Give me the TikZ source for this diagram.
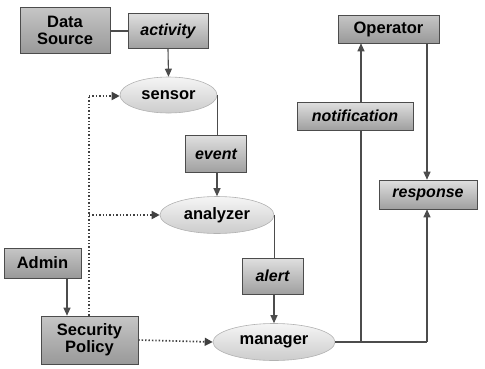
\documentclass[tikz,border=0pt]{standalone}
\usepackage{fontspec}
\setmainfont{Liberation Sans}
\usetikzlibrary{shapes.geometric,arrows.meta,calc}
\begin{document}
\begin{tikzpicture}[x=1pt,y=-1pt,
  base/.style={draw=black!70,line width=0.6pt,inner sep=0pt,align=center,font=\fontsize{16.5}{17}\selectfont\bfseries},
  bigbox/.style={base,rectangle,top color=gray!45,bottom color=gray!80},
  lblbox/.style={base,rectangle,top color=gray!25,bottom color=gray!75,font=\fontsize{16}{17}\selectfont\bfseries\itshape},
  oval/.style={base,ellipse,top color=gray!8,bottom color=gray!40,draw=gray!60},
  conn/.style={draw=black!70,line width=1.1pt},
  arr/.style={conn,-{Triangle[length=8pt,width=7pt]}},
  dots/.style={draw=black!75,line width=1.7pt,dash pattern=on 1.4pt off 2pt},
  darr/.style={dots,-{Triangle[length=8pt,width=8pt]}}
]
\useasboundingbox (0,0) rectangle (485,368);
% nodes
\node[bigbox,minimum width=90pt,minimum height=46pt] (ds) at (65,30) {Data\\Source};
\node[lblbox,minimum width=80pt,minimum height=35pt] (act) at (168,31) {activity};
\node[oval,minimum width=97pt,minimum height=36pt] (sensor) at (168.5,95) {sensor};
\node[lblbox,minimum width=61pt,minimum height=37pt] (event) at (216,154) {event};
\node[oval,minimum width=114pt,minimum height=37pt] (analyzer) at (217,215) {analyzer};
\node[lblbox,minimum width=61pt,minimum height=36pt] (alert) at (272.5,276) {alert};
\node[oval,minimum width=122pt,minimum height=37pt] (manager) at (274,342) {manager};
\node[bigbox,minimum width=101pt,minimum height=28pt] (op) at (388.5,29) {Operator};
\node[lblbox,minimum width=116pt,minimum height=28pt] (notif) at (355,116) {notification};
\node[lblbox,minimum width=98pt,minimum height=29pt] (resp) at (428,194.5) {response};
\node[bigbox,minimum width=77pt,minimum height=30pt] (admin) at (42.5,263) {Admin};
\node[bigbox,minimum width=97pt,minimum height=48pt] (sp) at (89.5,340) {Security\\Policy};
% coordinates
\coordinate (j1) at (361,342);
\coordinate (j2) at (427,342);
\coordinate (dtop) at (89,96);
\coordinate (dmid) at (89,215);
% connectors
\draw[conn] (ds.east |- act.west) -- (act.west);
\draw[arr] (act.south) -- (sensor.north);
\draw[conn] (sensor.east) -- (sensor.east |- event.north);
\draw[arr] (analyzer.north |- event.south) -- (analyzer.north);
\draw[conn] (analyzer.east) -- (analyzer.east |- alert.north);
\draw[arr] (manager.north |- alert.south) -- (manager.north);
\draw[conn] (manager.east) -- (j2);
\draw[arr] (j2) -- (j2 |- resp.south);
\draw[conn] (j1) -- (j1 |- notif.south);
\draw[arr] (j1 |- notif.north) -- (j1 |- op.south);
\draw[arr] (j2 |- op.south) -- (j2 |- resp.north);
\draw[arr] (67,278) coordinate (a1) -- (a1 |- sp.north);
% dotted
\draw[dots] (sp.north -| dtop) -- (dtop);
\draw[darr] (dtop) -- (dtop -| sensor.west);
\draw[darr] (dmid) -- (analyzer.west);
\draw[darr] (sp.east) -- (manager.west);
\end{tikzpicture}
\end{document}
